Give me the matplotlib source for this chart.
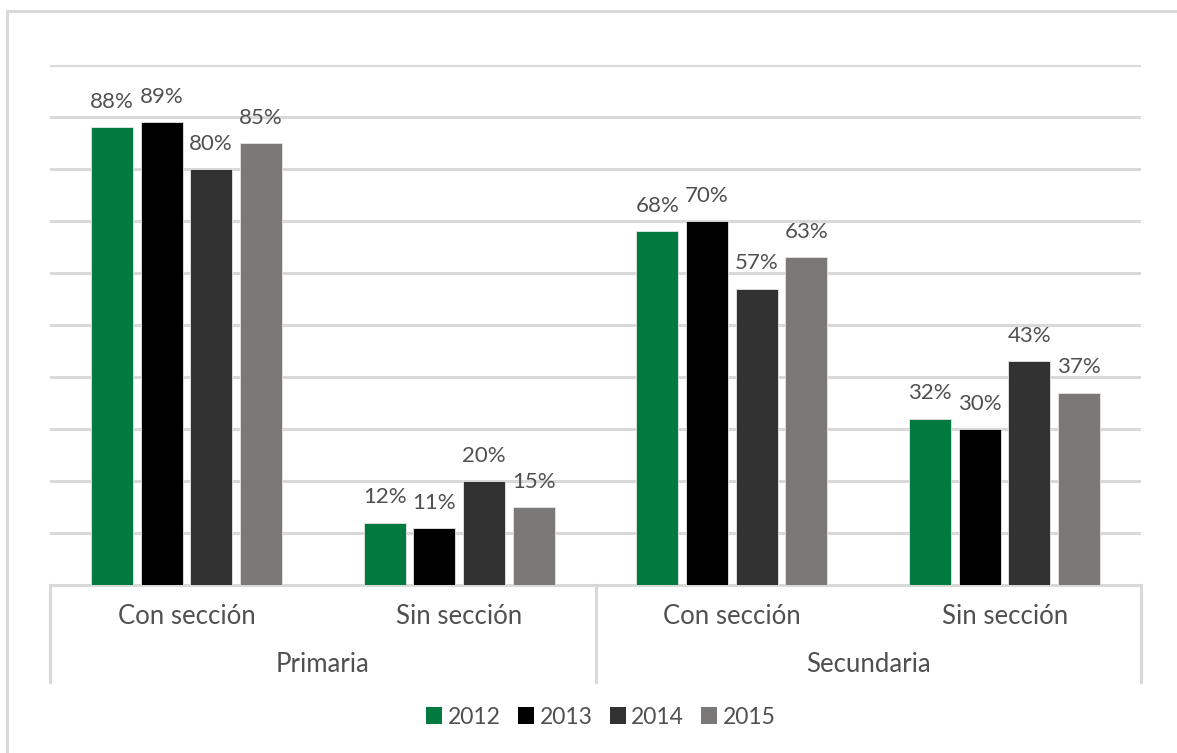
import matplotlib
matplotlib.use("Agg")
import matplotlib.pyplot as plt
from matplotlib.lines import Line2D
from matplotlib.patches import Patch
import numpy as np

plt.rcParams['font.family'] = ['Lato', 'DejaVu Sans']

# Data
levels = ["Primaria", "Secundaria"]
categories = ["Con sección", "Sin sección", "Con sección", "Sin sección"]
years = ["2012", "2013", "2014", "2015"]
values = {
    "2012": [88, 12, 68, 32],
    "2013": [89, 11, 70, 30],
    "2014": [80, 20, 57, 43],
    "2015": [85, 15, 63, 37],
}
colors = ["#007a3e", "#000000", "#323232", "#7b7977"]

W, H = 1177, 753
fig = plt.figure(figsize=(W / 100, H / 100), dpi=100)
ax_left, ax_right, ax_top, ax_bot = 50, 1141, 65, 585
ax = fig.add_axes([ax_left / W, 1 - ax_bot / H, (ax_right - ax_left) / W, (ax_bot - ax_top) / H])

text_color = "#505050"
grid_color = "#d9d9d9"

x = np.arange(len(categories)) + 0.5
pitch = 0.182
width = 0.154
for i, (yr, col) in enumerate(zip(years, colors)):
    offs = (i - 1.5) * pitch
    vals = values[yr]
    ax.bar(x + offs, vals, width=width, color=col, zorder=3,
           edgecolor="#e6e6e6", linewidth=0.6)
    for xi, v in zip(x + offs, vals):
        ax.annotate(f"{v}%", (xi, v), xytext=(0, 11), textcoords="offset points",
                    ha="center", va="bottom", fontsize=16, color=text_color)

ax.set_xlim(0, 4)
ax.set_ylim(0, 100)
ax.set_yticks(np.arange(10, 101, 10))
ax.yaxis.grid(True, color=grid_color, linewidth=2.2, zorder=0)
ax.tick_params(left=False, bottom=False, labelleft=False, labelbottom=False)
for s in ["top", "right", "left"]:
    ax.spines[s].set_visible(False)
ax.spines["bottom"].set_color(grid_color)
ax.spines["bottom"].set_linewidth(2.2)

# Two-level category axis
def fx(px):
    return px / W

def fy(py):
    return 1 - py / H

sep_px = [ax_left, (ax_left + ax_right) / 2, ax_right]
for px in sep_px:
    fig.add_artist(Line2D([fx(px), fx(px)], [fy(585), fy(682)], color=grid_color, linewidth=2.2))

for xi, cat in zip(x, categories):
    px = ax_left + xi / 4 * (ax_right - ax_left)
    fig.text(fx(px), fy(617), cat, ha="center", va="center", fontsize=18.5, color=text_color)
for j, lev in enumerate(levels):
    px = ax_left + (2 * j + 1) / 4 * (ax_right - ax_left)
    fig.text(fx(px), fy(665), lev, ha="center", va="center", fontsize=18.5, color=text_color)

# Outer frame
fig.add_artist(Line2D([fx(7), fx(7)], [fy(11), 0], color=grid_color, linewidth=2.2))
fig.add_artist(Line2D([fx(7), 1], [fy(11), fy(11)], color=grid_color, linewidth=2.2))

handles = [Patch(facecolor=c, edgecolor="none") for c in colors]
fig.legend(handles, years, loc="center", bbox_to_anchor=(fx(601), fy(717)), ncol=4,
           frameon=False, fontsize=16.5, labelcolor=text_color,
           handlelength=0.7, handleheight=0.7, handletextpad=0.25, columnspacing=0.75,
           borderpad=0, borderaxespad=0)

fig.savefig("out.png", dpi=100)
